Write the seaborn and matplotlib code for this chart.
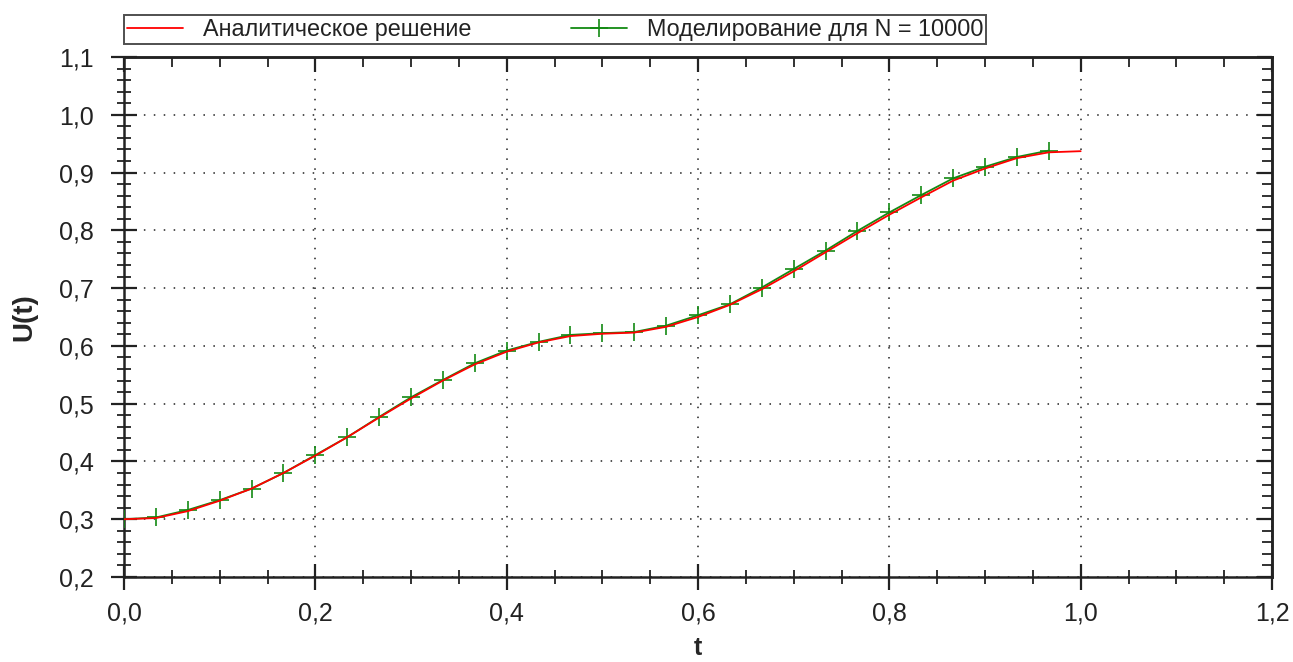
import numpy as np
import pandas as pd
import matplotlib
matplotlib.use("Agg")
import matplotlib.pyplot as plt
import seaborn as sns
from matplotlib.ticker import MultipleLocator, FuncFormatter, NullFormatter

# Analytic solution, t step 1/30
t_analytic = [i / 30 for i in range(31)]
u_analytic = [0.300, 0.302, 0.314, 0.332, 0.353, 0.380, 0.410, 0.442, 0.476, 0.509,
              0.540, 0.568, 0.590, 0.606, 0.617, 0.621, 0.623, 0.633, 0.650, 0.671,
              0.698, 0.729, 0.762, 0.795, 0.827, 0.857, 0.886, 0.907, 0.925, 0.935,
              0.937]

# Simulation N = 10000
t_sim = [i / 30 for i in range(30)]
u_sim = [0.300, 0.303, 0.316, 0.333, 0.353, 0.380, 0.411, 0.442, 0.477, 0.511,
         0.541, 0.570, 0.592, 0.607, 0.619, 0.622, 0.624, 0.635, 0.653, 0.672,
         0.701, 0.733, 0.765, 0.799, 0.831, 0.861, 0.890, 0.910, 0.927, 0.938]

label_analytic = "Аналитическое решение"
label_sim = "Моделирование для N = 10000"

sns.set_style("ticks")
plt.rcParams['font.family'] = ['Liberation Sans', 'DejaVu Sans']

fig = plt.figure(figsize=(12.93, 6.62), dpi=100)
ax = fig.add_axes([124 / 1293, 1 - 577 / 662, (1272 - 124) / 1293, (577 - 57) / 662])

df_a = pd.DataFrame({"t": t_analytic, "u": u_analytic})
df_s = pd.DataFrame({"t": t_sim, "u": u_sim})

green = "#138a13"
sns.lineplot(data=df_s, x="t", y="u", ax=ax, color=green, linewidth=1.3,
             marker="+", markersize=12.5, markeredgewidth=1.2,
             markeredgecolor=green, markerfacecolor=green, label=label_sim, zorder=3)
sns.lineplot(data=df_a, x="t", y="u", ax=ax, color="#ff0000", linewidth=1.3,
             label=label_analytic, zorder=4)

ax.set_xlim(0, 1.2)
ax.set_ylim(0.2, 1.1)
ax.xaxis.set_major_locator(MultipleLocator(0.2))
ax.xaxis.set_minor_locator(MultipleLocator(0.05))
ax.yaxis.set_major_locator(MultipleLocator(0.1))
ax.yaxis.set_minor_locator(MultipleLocator(0.02))
fmt = FuncFormatter(lambda v, p: f"{v:.1f}".replace(".", ","))
ax.xaxis.set_major_formatter(fmt)
ax.yaxis.set_major_formatter(fmt)

ax.grid(True, which="major", linestyle=(0, (1, 5.5)), color="#222222", linewidth=1.1)
for s in ax.spines.values():
    s.set_visible(True)
    s.set_color("#222222")
    s.set_linewidth(1.8)

ax.tick_params(which="both", direction="inout", top=False, right=False, colors="#222222",
               labelsize=18, labelcolor="#222222")
ax.tick_params(axis="y", which="major", length=19, width=1.6, pad=12)
ax.tick_params(axis="x", which="major", length=19, width=1.6, pad=8)
ax.tick_params(which="minor", length=10, width=1.3)

# inward ticks on the top and right sides
secx = ax.secondary_xaxis("top")
secx.xaxis.set_major_locator(MultipleLocator(0.2))
secx.xaxis.set_minor_locator(MultipleLocator(0.05))
secx.xaxis.set_major_formatter(NullFormatter())
secx.tick_params(which="both", direction="in", colors="#222222")
secx.tick_params(which="major", length=11, width=1.6)
secx.tick_params(which="minor", length=7, width=1.3)
secx.spines["top"].set_linewidth(1.8)
secx.spines["top"].set_color("#222222")
secy = ax.secondary_yaxis("right")
secy.yaxis.set_major_locator(MultipleLocator(0.1))
secy.yaxis.set_minor_locator(MultipleLocator(0.02))
secy.yaxis.set_major_formatter(NullFormatter())
secy.tick_params(which="both", direction="in", colors="#222222")
secy.tick_params(which="major", length=11, width=1.6)
secy.tick_params(which="minor", length=7, width=1.3)
secy.spines["right"].set_linewidth(1.8)
secy.spines["right"].set_color("#222222")

ax.set_xlabel("t", fontsize=18, fontweight="bold", labelpad=8)
ax.set_ylabel("U(t)", fontsize=20, fontweight="bold", labelpad=16)

handles, labels = ax.get_legend_handles_labels()
order = [labels.index(label_analytic), labels.index(label_sim)]
leg = ax.legend([handles[i] for i in order], [labels[i] for i in order],
                loc="lower left", bbox_to_anchor=(0, 1.025),
                ncol=2, fontsize=16.8, frameon=True, fancybox=False,
                handlelength=2.4, borderpad=0.12, handletextpad=0.85,
                columnspacing=4.3, borderaxespad=0)
leg.get_frame().set_edgecolor("#222222")
leg.get_frame().set_linewidth(1.4)
for txt in leg.get_texts():
    txt.set_color("#222222")

fig.savefig("out.png", dpi=100, facecolor="white")
